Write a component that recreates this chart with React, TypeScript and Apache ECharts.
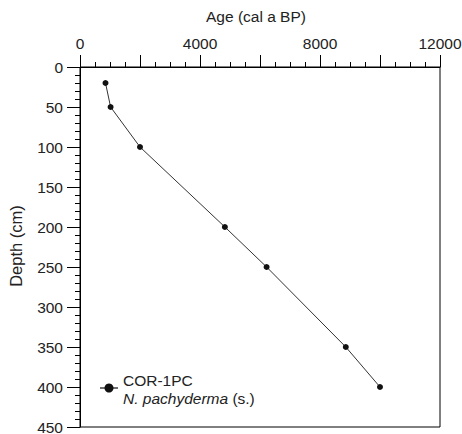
import React, { useEffect, useRef } from "react";
import * as echarts from "echarts";

const ages = [850, 1020, 2000, 4830, 6220, 8860, 10000];
const depths = [20, 50, 100, 200, 250, 350, 400];
const xTickLabels = [0, 4000, 8000, 12000];
const seriesName = "COR-1PC";
const speciesName = "N. pachyderma";
const speciesSuffix = " (s.)";
const xTitle = "Age (cal a BP)";
const yTitle = "Depth (cm)";

const FONT = "Liberation Sans, Arial, sans-serif";

export default function App() {
  const ref = useRef<HTMLDivElement>(null);
  useEffect(() => {
    if (!ref.current) return;
    const chart = echarts.init(ref.current, null, { renderer: "svg" });
    const data = ages.map((a, i) => [a, depths[i]]);
    chart.setOption({
      animation: false,
      backgroundColor: "#fff",
      grid: {
        left: 80,
        top: 67,
        width: 360,
        height: 360,
        show: true,
        borderColor: "#000",
        borderWidth: 1,
        backgroundColor: "transparent",
        containLabel: false,
        outerBoundsMode: "none",
      },
      xAxis: {
        type: "value",
        position: "top",
        min: 0,
        max: 12000,
        interval: 2000,
        splitLine: { show: false },
        axisLine: { show: true, lineStyle: { color: "#000", width: 1 } },
        axisTick: { show: true, length: 12, lineStyle: { color: "#000", width: 1 } },
        minorTick: { show: true, splitNumber: 4, length: 5, lineStyle: { color: "#000", width: 1 } },
        minorSplitLine: { show: false },
        axisLabel: {
          interval: 0,
          margin: 16,
          fontSize: 15.5,
          fontFamily: FONT,
          color: "#222",
          showMinLabel: true,
          showMaxLabel: true,
          formatter: (v: number) => (xTickLabels.includes(v) ? String(v) : ""),
        },
      },
      yAxis: {
        type: "value",
        inverse: true,
        min: 0,
        max: 450,
        interval: 50,
        splitLine: { show: false },
        axisLine: { show: true, lineStyle: { color: "#000", width: 1 } },
        axisTick: { show: true, length: 13, lineStyle: { color: "#000", width: 1 } },
        minorTick: { show: true, splitNumber: 5, length: 5, lineStyle: { color: "#000", width: 1 } },
        minorSplitLine: { show: false },
        axisLabel: {
          interval: 0,
          margin: 17,
          fontSize: 15.5,
          fontFamily: FONT,
          color: "#222",
          showMinLabel: true,
          showMaxLabel: true,
        },
      },
      series: [
        {
          type: "line",
          name: seriesName,
          data,
          symbol: "circle",
          symbolSize: 6,
          itemStyle: { color: "#111" },
          lineStyle: { color: "#333", width: 1 },
        },
      ],
      graphic: [
        {
          type: "text",
          left: 206,
          top: 8,
          style: { text: xTitle, fontSize: 15.5, fontFamily: FONT, fill: "#222" },
        },
        {
          type: "text",
          x: 16,
          y: 246,
          rotation: Math.PI / 2,
          style: {
            text: yTitle,
            fontSize: 16.5,
            fontFamily: FONT,
            fill: "#222",
            align: "center",
            verticalAlign: "middle",
          },
        },
        {
          type: "line",
          shape: { x1: 100, y1: 388, x2: 118, y2: 388 },
          style: { stroke: "#111", lineWidth: 1.2 },
        },
        {
          type: "circle",
          shape: { cx: 109, cy: 388, r: 4.5 },
          style: { fill: "#111" },
        },
        {
          type: "text",
          x: 123,
          y: 380,
          style: {
            text: seriesName,
            fontSize: 15.5,
            fontFamily: FONT,
            fill: "#222",
            verticalAlign: "middle",
          },
        },
        {
          type: "text",
          x: 123,
          y: 398,
          style: {
            text: `{i|${speciesName}}{n|${speciesSuffix}}`,
            fontSize: 15.5,
            fontFamily: FONT,
            fill: "#222",
            verticalAlign: "middle",
            rich: {
              i: { fontStyle: "italic", fontSize: 15.5, fontFamily: FONT, fill: "#222" },
              n: { fontSize: 15.5, fontFamily: FONT, fill: "#222" },
            },
          },
        },
      ],
    });
    return () => chart.dispose();
  }, []);
  return (
    <div
      ref={ref}
      style={{ position: "absolute", left: 0, top: 0, width: 462, height: 434 }}
    />
  );
}
